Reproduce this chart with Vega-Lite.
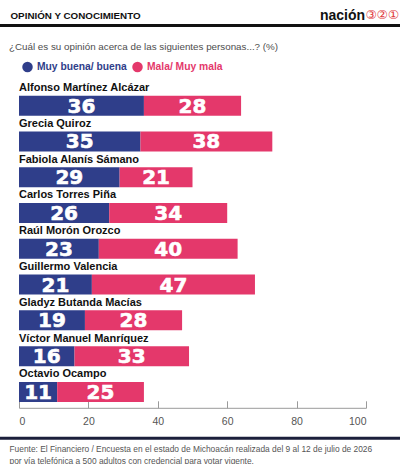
{
  "$schema": "https://vega.github.io/schema/vega-lite/v6.json",
  "padding": {"left": 0, "top": 8, "right": 0, "bottom": 0},
  "background": "white",
  "config": {
    "view": {"stroke": null},
    "font": "Liberation Sans",
    "title": {"font": "Liberation Sans"}
  },
  "spacing": 13.8,
  "resolve": {"scale": {"color": "independent"}, "legend": {"color": "independent"}},
  "vconcat": [
    {
      "width": 400,
      "height": 3,
      "data": {"values": [{"tramo": "cabecera"}]},
      "resolve": {"scale": {"y": "independent"}, "axis": {"y": "independent"}},
      "layer": [
        {
          "mark": {"type": "rect", "color": "#111111"},
          "encoding": {
            "x": {
              "datum": 0,
              "type": "quantitative",
              "scale": {"domain": [0, 1]},
              "axis": {
                "orient": "bottom",
                "domain": false,
                "labels": false,
                "ticks": false,
                "grid": false,
                "title": "OPINIÓN Y CONOCIMIENTO",
                "titleX": 10,
                "titleY": -8.5,
                "titleAlign": "left",
                "titleBaseline": "alphabetic",
                "titleFont": "Liberation Sans",
                "titleFontSize": 9.8,
                "titleFontWeight": "bold",
                "titleColor": "#111111"
              }
            },
            "x2": {"datum": 1},
            "y": {
              "datum": 0,
              "type": "quantitative",
              "scale": {"domain": [0, 1]},
              "axis": {
                "orient": "left",
                "domain": false,
                "labels": false,
                "ticks": false,
                "grid": false,
                "title": "nación",
                "titleAngle": 0,
                "titleX": 364.5,
                "titleY": -4.5,
                "titleAlign": "right",
                "titleBaseline": "alphabetic",
                "titleFont": "Liberation Sans",
                "titleFontSize": 14,
                "titleFontWeight": "bold",
                "titleColor": "#111111"
              }
            },
            "y2": {"datum": 1}
          }
        },
        {
          "mark": {"type": "rect", "color": "#111111"},
          "encoding": {
            "x": {"datum": 0, "type": "quantitative"},
            "x2": {"datum": 1},
            "y": {
              "datum": 0,
              "type": "quantitative",
              "scale": {"domain": [0, 1]},
              "axis": {
                "orient": "right",
                "domain": false,
                "labels": false,
                "ticks": false,
                "grid": false,
                "title": "③②①",
                "titleAngle": 0,
                "titleX": -1.5,
                "titleY": -5.9,
                "titleAlign": "right",
                "titleBaseline": "alphabetic",
                "titleFont": "DejaVu Sans",
                "titleFontSize": 12.5,
                "titleFontWeight": "normal",
                "titleColor": "#e03a3e"
              }
            },
            "y2": {"datum": 1}
          }
        }
      ]
    },
    {
      "spacing": 9,
      "resolve": {"scale": {"color": "independent"}, "legend": {"color": "independent"}},
      "vconcat": [
        {
          "width": 366,
          "height": 322,
          "title": {
            "text": "¿Cuál es su opinión acerca de las siguientes personas...? (%)",
            "anchor": "start",
            "frame": "group",
            "dx": 9,
            "offset": 10,
            "fontSize": 9.8,
            "fontWeight": "normal",
            "color": "#4d4d4d"
          },
          "data": {
            "values": [
              {"nombre": "Alfonso Martínez Alcázar", "opinion": "Muy buena/ buena", "orden": 1, "pct": 36},
              {"nombre": "Alfonso Martínez Alcázar", "opinion": "Mala/ Muy mala", "orden": 2, "pct": 28},
              {"nombre": "Grecia Quiroz", "opinion": "Muy buena/ buena", "orden": 1, "pct": 35},
              {"nombre": "Grecia Quiroz", "opinion": "Mala/ Muy mala", "orden": 2, "pct": 38},
              {"nombre": "Fabiola Alanís Sámano", "opinion": "Muy buena/ buena", "orden": 1, "pct": 29},
              {"nombre": "Fabiola Alanís Sámano", "opinion": "Mala/ Muy mala", "orden": 2, "pct": 21},
              {"nombre": "Carlos Torres Piña", "opinion": "Muy buena/ buena", "orden": 1, "pct": 26},
              {"nombre": "Carlos Torres Piña", "opinion": "Mala/ Muy mala", "orden": 2, "pct": 34},
              {"nombre": "Raúl Morón Orozco", "opinion": "Muy buena/ buena", "orden": 1, "pct": 23},
              {"nombre": "Raúl Morón Orozco", "opinion": "Mala/ Muy mala", "orden": 2, "pct": 40},
              {"nombre": "Guillermo Valencia", "opinion": "Muy buena/ buena", "orden": 1, "pct": 21},
              {"nombre": "Guillermo Valencia", "opinion": "Mala/ Muy mala", "orden": 2, "pct": 47},
              {"nombre": "Gladyz Butanda Macías", "opinion": "Muy buena/ buena", "orden": 1, "pct": 19},
              {"nombre": "Gladyz Butanda Macías", "opinion": "Mala/ Muy mala", "orden": 2, "pct": 28},
              {"nombre": "Víctor Manuel Manríquez", "opinion": "Muy buena/ buena", "orden": 1, "pct": 16},
              {"nombre": "Víctor Manuel Manríquez", "opinion": "Mala/ Muy mala", "orden": 2, "pct": 33},
              {"nombre": "Octavio Ocampo", "opinion": "Muy buena/ buena", "orden": 1, "pct": 11},
              {"nombre": "Octavio Ocampo", "opinion": "Mala/ Muy mala", "orden": 2, "pct": 25}
            ]
          },
          "encoding": {
            "y": {
              "field": "nombre",
              "type": "nominal",
              "sort": [
                "Alfonso Martínez Alcázar",
                "Grecia Quiroz",
                "Fabiola Alanís Sámano",
                "Carlos Torres Piña",
                "Raúl Morón Orozco",
                "Guillermo Valencia",
                "Gladyz Butanda Macías",
                "Víctor Manuel Manríquez",
                "Octavio Ocampo"
              ],
              "scale": {"paddingInner": 0, "paddingOuter": 0},
              "axis": null
            }
          },
          "layer": [
            {
              "mark": {"type": "bar", "height": 20},
              "encoding": {
                "x": {
                  "field": "pct",
                  "type": "quantitative",
                  "stack": "zero",
                  "scale": {"domain": [0, 100], "nice": false, "range": [19, 366]},
                  "axis": {
                    "title": null,
                    "values": [0, 20, 40, 60, 80, 100],
                    "grid": false,
                    "offset": -2,
                    "domainColor": "#9a9a9a",
                    "tickColor": "#9a9a9a",
                    "tickSize": -7,
                    "labelPadding": 16,
                    "labelFontSize": 10.5,
                    "labelColor": "#555555",
                    "labelFont": "Liberation Sans"
                  }
                },
                "color": {
                  "field": "opinion",
                  "type": "nominal",
                  "scale": {
                    "domain": ["Muy buena/ buena", "Mala/ Muy mala"],
                    "range": ["#2f3e8a", "#e4386b"]
                  },
                  "legend": {
                    "title": null,
                    "orient": "none",
                    "legendX": 22,
                    "legendY": -26.4,
                    "direction": "horizontal",
                    "padding": 0,
                    "symbolType": "circle",
                    "symbolSize": 110,
                    "symbolStrokeWidth": 0,
                    "symbolOpacity": 1,
                    "labelFont": "Liberation Sans",
                    "labelFontSize": 10.3,
                    "labelFontWeight": "bold",
                    "labelOffset": 4,
                    "columnPadding": 5,
                    "labelColor": {"expr": "datum.label == 'Muy buena/ buena' ? '#2f3e8a' : '#e4386b'"}
                  }
                },
                "order": {"field": "orden", "type": "quantitative"}
              }
            },
            {
              "mark": {
                "type": "text",
                "font": "DejaVu Sans",
                "fontWeight": "bold",
                "fontSize": 20,
                "color": "white",
                "stroke": "white",
                "strokeWidth": 0.6,
                "baseline": "middle",
                "align": "center",
                "dy": 1
              },
              "encoding": {
                "x": {"field": "pct", "type": "quantitative", "stack": "zero", "bandPosition": 0.5},
                "detail": {"field": "opinion"},
                "order": {"field": "orden", "type": "quantitative"},
                "text": {"field": "pct", "type": "quantitative"}
              }
            },
            {
              "transform": [{"filter": "datum.orden == 1"}],
              "mark": {
                "type": "text",
                "font": "Liberation Sans",
                "fontWeight": "bold",
                "fontSize": 11,
                "color": "#111111",
                "align": "left",
                "baseline": "alphabetic",
                "dy": -14.6
              },
              "encoding": {
                "x": {"datum": 0, "type": "quantitative"},
                "text": {"field": "nombre"}
              }
            }
          ]
        },
        {
          "width": 400,
          "height": 3,
          "data": {"values": [{"tramo": "pie"}]},
          "mark": {"type": "rect", "color": "#1b1f3b"},
          "encoding": {
            "x": {
              "datum": 0,
              "type": "quantitative",
              "scale": {"domain": [0, 1]},
              "axis": {
                "orient": "top",
                "domain": false,
                "labels": false,
                "ticks": false,
                "grid": false,
                "title": [
                  "Fuente: El Financiero / Encuesta en el estado de Michoacán realizada del 9 al 12 de julio de 2026",
                  "por vía telefónica a 500 adultos con credencial para votar vigente."
                ],
                "titleX": 9,
                "titleY": 14.3,
                "titleAlign": "left",
                "titleBaseline": "alphabetic",
                "titleLineHeight": 12.5,
                "titleFont": "Liberation Sans",
                "titleFontSize": 8.4,
                "titleFontWeight": "normal",
                "titleColor": "#555555"
              }
            },
            "x2": {"datum": 1},
            "y": {"datum": 0, "type": "quantitative", "scale": {"domain": [0, 1]}, "axis": null},
            "y2": {"datum": 1}
          }
        }
      ]
    }
  ]
}
